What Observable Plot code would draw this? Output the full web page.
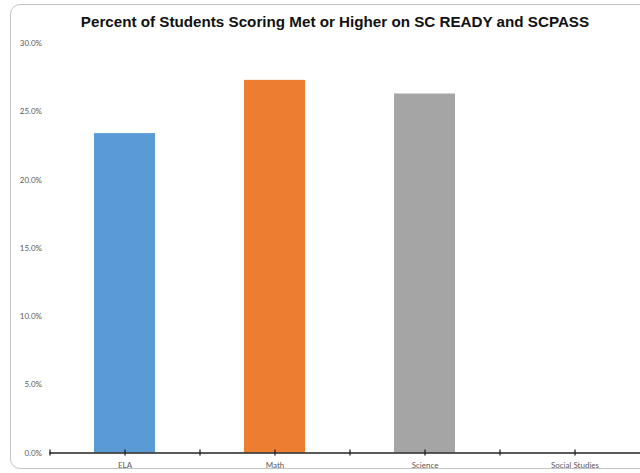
<!DOCTYPE html>
<html>
<head>
<meta charset="utf-8">
<script src="https://cdn.jsdelivr.net/npm/d3@7"></script>
<script src="https://cdn.jsdelivr.net/npm/@observablehq/plot@0.6"></script>
<style>
  html, body { margin: 0; padding: 0; background: #fff; }
  #wrap { position: relative; width: 640px; height: 473px; overflow: hidden; background: #fff; }
  #frame { position: absolute; left: 10px; top: 4px; width: 720px; height: 465px;
           border: 1.5px solid #c4c4c4; border-radius: 10px; box-sizing: border-box; }
  #title { position: absolute; left: 0; top: 14px; width: 670px; text-align: center;
           font: bold 15.2px "Liberation Sans", Arial, sans-serif; line-height: 15px; color: #111; }
  #chart { position: absolute; left: 0; top: 0; }
</style>
</head>
<body>
<div id="wrap">
  <div id="frame"></div>
  <div id="chart"></div>
  <div id="title"></div>
</div>
<script>
const titleText = "Percent of Students Scoring Met or Higher on SC READY and SCPASS";
const categories = ["ELA", "Math", "Science", "Social Studies"];
const values = [23.4, 27.3, 26.3, 0];
const colors = ["#5b9bd5", "#ed7d31", "#a5a5a5", "#ffc000"];
const yTicks = [0, 5, 10, 15, 20, 25, 30];

const data = categories.map((c, i) => ({subject: c, value: values[i]}));

document.getElementById("title").textContent = titleText;

const chart = Plot.plot({
  width: 640,
  height: 473,
  marginLeft: 49.5,
  marginRight: 0,
  marginTop: 43,
  marginBottom: 20.5,
  style: {fontFamily: "Lato, 'Open Sans', sans-serif", background: "transparent", overflow: "hidden"},
  x: {domain: categories, range: [49.5, 649.5], paddingInner: 0.593, paddingOuter: 0.2965, label: null},
  y: {domain: [0, 30], label: null},
  color: {domain: categories, range: colors},
  marks: [
    Plot.barY(data, {x: "subject", y: "value", fill: "subject"}),
    Plot.ruleY([0], {stroke: "#222", strokeWidth: 1.3}),
    Plot.ruleX(categories, {x: d => d, y1: 0, y2: 0, insetTop: -3, insetBottom: -3, stroke: "#222", strokeWidth: 1.3}),
    Plot.ruleX(categories, {x: d => d, y1: 0, y2: 0, dx: -75, insetTop: -3, insetBottom: -3, stroke: "#222", strokeWidth: 1.3}),
    Plot.axisY({ticks: yTicks, tickFormat: d => d.toFixed(1) + "%", tickSize: 0, tickPadding: 8,
                fontSize: 8, fill: "#595959", label: null}),
    Plot.axisX({tickSize: 0, tickPadding: 9, fontSize: 8, fill: "#595959", label: null})
  ]
});
document.getElementById("chart").appendChild(chart);
</script>
</body>
</html>
